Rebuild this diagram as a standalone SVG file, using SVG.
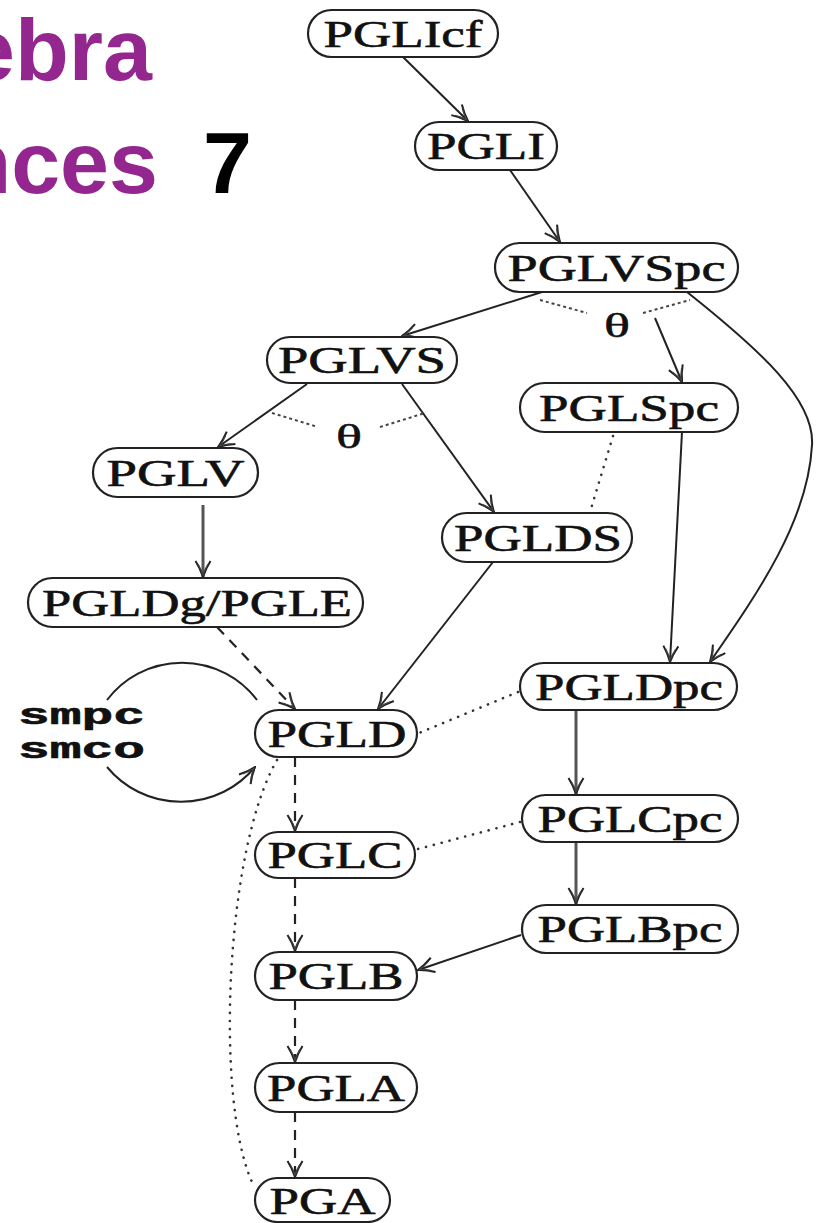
<svg xmlns="http://www.w3.org/2000/svg" width="817" height="1223" viewBox="0 0 817 1223">
<style>
.title{font-family:"Liberation Sans",Arial,sans-serif;font-weight:bold;font-size:88px;fill:#93268F}
.num{font-family:"Liberation Sans",Arial,sans-serif;font-weight:bold;font-size:88px;fill:#000}
.box{fill:#fff;stroke:#222;stroke-width:2.2}
.lbl{font-family:"Liberation Serif","Times New Roman",serif;font-size:38px;fill:#111;stroke:#111;stroke-width:0.6;text-anchor:middle}
.th{font-family:"Liberation Serif","Times New Roman",serif;font-size:34px;fill:#111;stroke:#111;stroke-width:0.5;text-anchor:middle}
.mono{font-family:"Liberation Mono","Courier New",monospace;font-weight:bold;font-size:30px;fill:#111;stroke:#111;stroke-width:0.6}
.solid{fill:none;stroke:#222;stroke-width:2}
.thick{fill:none;stroke:#555;stroke-width:3}
.dash{fill:none;stroke:#222;stroke-width:2.2;stroke-dasharray:10 8}
.dot{fill:none;stroke:#333;stroke-width:2.6;stroke-dasharray:0.1 8;stroke-linecap:round}
.sdot{fill:none;stroke:#444;stroke-width:2;stroke-dasharray:3 3}
</style>
<defs>
<marker id="arr" viewBox="0 0 18 18" markerWidth="18" markerHeight="18" refX="17" refY="9" orient="auto" markerUnits="userSpaceOnUse">
<path d="M1,1.5 Q9,6.5 17,9 Q9,11.5 1,16.5" fill="none" stroke="#222" stroke-width="2"/>
<path d="M4,4 Q10,7.5 15,9 Q10,10.5 4,14" fill="none" stroke="#444" stroke-width="1.2"/>
</marker>
</defs>

<text class="title" x="152" y="80" text-anchor="end">ebra</text>
<text class="title" x="158" y="193" text-anchor="end">nces</text>
<text class="num" x="203" y="193">7</text>

<g id="connectors">
<line class="solid" x1="403" y1="57" x2="468" y2="121" marker-end="url(#arr)"/>
<line class="solid" x1="510" y1="170" x2="560" y2="242" marker-end="url(#arr)"/>
<line class="solid" x1="542" y1="292" x2="402" y2="336" marker-end="url(#arr)"/>
<line class="solid" x1="655" y1="318" x2="682" y2="382" marker-end="url(#arr)"/>
<path class="solid" d="M687,292 C760,350 815,400 812,445 C808,520 760,590 710,662" marker-end="url(#arr)"/>
<path class="sdot" d="M540,300 L587,313"/>
<path class="sdot" d="M643,313 L690,300"/>
<line class="solid" x1="307" y1="384" x2="218" y2="447" marker-end="url(#arr)"/>
<line class="solid" x1="402" y1="384" x2="494" y2="512" marker-end="url(#arr)"/>
<path class="sdot" d="M272,413 L318,427"/>
<path class="sdot" d="M380,427 L425,413"/>
<line class="thick" x1="203" y1="505" x2="203" y2="577" marker-end="url(#arr)"/>
<line class="solid" x1="493" y1="562" x2="378" y2="709" marker-end="url(#arr)"/>
<line class="dash" x1="217" y1="627" x2="295" y2="709" marker-end="url(#arr)"/>
<line class="solid" x1="682" y1="432" x2="670" y2="662" marker-end="url(#arr)"/>
<line class="dot" x1="613" y1="436" x2="590" y2="512"/>
<line class="dot" x1="518" y1="692" x2="419" y2="733"/>
<line class="thick" x1="576" y1="710" x2="576" y2="794" marker-end="url(#arr)"/>
<line class="dash" x1="295" y1="757" x2="295" y2="831" marker-end="url(#arr)"/>
<line class="dot" x1="520" y1="822" x2="418" y2="849"/>
<line class="thick" x1="576" y1="842" x2="576" y2="904" marker-end="url(#arr)"/>
<line class="dash" x1="295" y1="878" x2="295" y2="951" marker-end="url(#arr)"/>
<line class="solid" x1="521" y1="935" x2="418" y2="970" marker-end="url(#arr)"/>
<line class="dash" x1="295" y1="1000" x2="295" y2="1062" marker-end="url(#arr)"/>
<line class="dash" x1="295" y1="1112" x2="295" y2="1177" marker-end="url(#arr)"/>
<path class="dot" d="M277,760 C225,850 215,1100 252,1182"/>
<path class="solid" d="M107,700 A94,94 0 0 1 257,700"/>
<path class="solid" d="M107,767 A96,96 0 0 0 255,767" marker-end="url(#arr)"/>
<text class="th" x="617" y="337" textLength="26" lengthAdjust="spacingAndGlyphs">θ</text>
<text class="th" x="349" y="448" textLength="26" lengthAdjust="spacingAndGlyphs">θ</text>
<text class="mono" x="18" y="724" textLength="127" lengthAdjust="spacingAndGlyphs">smpc</text>
<text class="mono" x="18" y="758" textLength="127" lengthAdjust="spacingAndGlyphs">smco</text>
</g>

<g id="PGLIcf"><rect class="box" x="308" y="10" width="190" height="47" rx="23.5"/><text class="lbl" x="403" y="47" textLength="159" lengthAdjust="spacingAndGlyphs">PGLIcf</text></g>
<g id="PGLI"><rect class="box" x="415" y="122" width="142" height="48" rx="24"/><text class="lbl" x="486" y="159" textLength="118" lengthAdjust="spacingAndGlyphs">PGLI</text></g>
<g id="PGLVSpc"><rect class="box" x="495" y="243" width="243" height="49" rx="24.5"/><text class="lbl" x="616.5" y="281" textLength="218" lengthAdjust="spacingAndGlyphs">PGLVSpc</text></g>
<g id="PGLVS"><rect class="box" x="267" y="337" width="190" height="46" rx="23"/><text class="lbl" x="362" y="373" textLength="168" lengthAdjust="spacingAndGlyphs">PGLVS</text></g>
<g id="PGLSpc"><rect class="box" x="520" y="383" width="218" height="49" rx="24.5"/><text class="lbl" x="629" y="421" textLength="180" lengthAdjust="spacingAndGlyphs">PGLSpc</text></g>
<g id="PGLV"><rect class="box" x="93" y="448" width="165" height="49" rx="24.5"/><text class="lbl" x="175.5" y="486" textLength="138" lengthAdjust="spacingAndGlyphs">PGLV</text></g>
<g id="PGLDS"><rect class="box" x="442" y="513" width="190" height="49" rx="24.5"/><text class="lbl" x="538" y="551" textLength="168" lengthAdjust="spacingAndGlyphs">PGLDS</text></g>
<g id="PGLDg_PGLE"><rect class="box" x="28" y="578" width="335" height="49" rx="24.5"/><text class="lbl" x="197" y="616" textLength="310" lengthAdjust="spacingAndGlyphs">PGLDg/PGLE</text></g>
<g id="PGLDpc"><rect class="box" x="520" y="663" width="217" height="47" rx="23.5"/><text class="lbl" x="629" y="700" textLength="188" lengthAdjust="spacingAndGlyphs">PGLDpc</text></g>
<g id="PGLD"><rect class="box" x="255" y="710" width="162" height="47" rx="23.5"/><text class="lbl" x="337" y="747" textLength="139" lengthAdjust="spacingAndGlyphs">PGLD</text></g>
<g id="PGLCpc"><rect class="box" x="522" y="795" width="216" height="47" rx="23.5"/><text class="lbl" x="630" y="832" textLength="185" lengthAdjust="spacingAndGlyphs">PGLCpc</text></g>
<g id="PGLC"><rect class="box" x="255" y="832" width="160" height="46" rx="23"/><text class="lbl" x="335" y="868" textLength="135" lengthAdjust="spacingAndGlyphs">PGLC</text></g>
<g id="PGLBpc"><rect class="box" x="522" y="905" width="216" height="48" rx="24"/><text class="lbl" x="630" y="942" textLength="185" lengthAdjust="spacingAndGlyphs">PGLBpc</text></g>
<g id="PGLB"><rect class="box" x="255" y="952" width="162" height="48" rx="24"/><text class="lbl" x="336" y="989" textLength="135" lengthAdjust="spacingAndGlyphs">PGLB</text></g>
<g id="PGLA"><rect class="box" x="255" y="1063" width="162" height="49" rx="24.5"/><text class="lbl" x="336" y="1101" textLength="138" lengthAdjust="spacingAndGlyphs">PGLA</text></g>
<g id="PGA"><rect class="box" x="255" y="1178" width="135" height="44" rx="22"/><text class="lbl" x="322.5" y="1214" textLength="106" lengthAdjust="spacingAndGlyphs">PGA</text></g>
</svg>
